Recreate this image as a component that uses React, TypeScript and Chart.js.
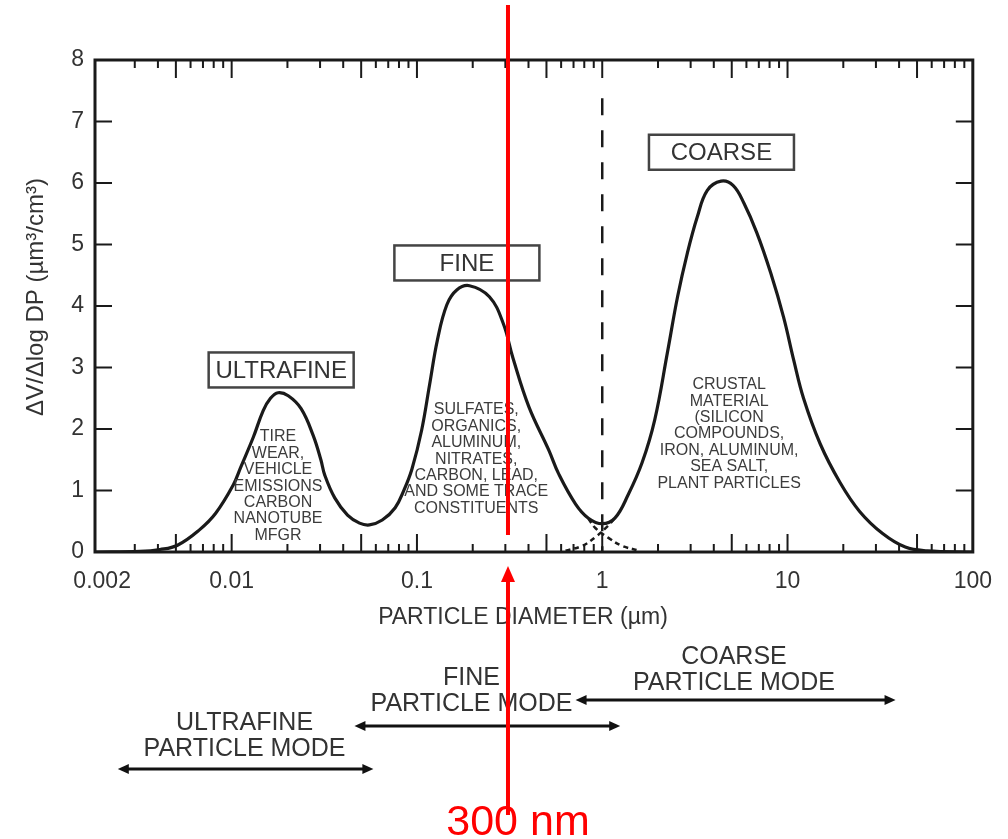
import React, { useEffect, useRef } from "react";
import { Chart, registerables } from "chart.js";

Chart.register(...registerables);

// ---------- data ----------
const diameters = [
  0.00183, 0.0032, 0.0041, 0.0051, 0.0067, 0.0082, 0.0102, 0.0112, 0.0131, 0.0148, 0.0162, 0.0178,
  0.0202, 0.0237, 0.0275, 0.0303, 0.0318, 0.036, 0.0422, 0.049, 0.0554, 0.065, 0.0763, 0.0852,
  0.094, 0.106, 0.117, 0.129, 0.145, 0.164, 0.192, 0.246, 0.292, 0.33, 0.402, 0.514, 0.582, 0.718,
  0.842, 1.0, 1.17, 1.38, 1.64, 1.92, 2.25, 2.55, 2.88, 3.26, 3.69, 4.38, 5.08, 5.82, 6.83, 8.11,
  9.52, 10.8, 12.2, 15.0, 19.2, 24.5, 32.6, 43.2, 56.8, 100,
];
const volumes = [
  0, 0.01, 0.04, 0.11, 0.36, 0.63, 1.09, 1.38, 1.87, 2.3, 2.5, 2.59,
  2.54, 2.33, 1.9, 1.5, 1.25, 0.88, 0.6, 0.47, 0.44, 0.52, 0.72, 1.01,
  1.35, 1.98, 2.72, 3.45, 4.02, 4.26, 4.33, 4.15, 3.72, 3.15, 2.36, 1.66, 1.27, 0.78,
  0.55, 0.46, 0.55, 0.93, 1.45, 2.15, 3.25, 4.15, 4.86, 5.45, 5.88, 6.03, 5.96, 5.67, 5.19, 4.54,
  3.82, 3.12, 2.5, 1.76, 1.13, 0.66, 0.3, 0.08, 0.02, 0,
];
// dashed overlapping tails of the fine and coarse modes near 1 µm
const fineTailX = [0.842, 0.918, 1.08, 1.28, 1.6];
const fineTailY = [0.54, 0.39, 0.23, 0.1, 0.02];
const coarseTailX = [0.634, 0.78, 0.918, 1.06, 1.17];
const coarseTailY = [0.02, 0.1, 0.24, 0.41, 0.55];

const cutoffDiameter = 1;
const cutoffTop = 7.38;
const markerDiameter = 0.31;
const markerLabel = "300 nm";

const xMin = 0.00183;
const xMax = 100;
const yMin = 0;
const yMax = 8;
const xTickValues = [0.002, 0.01, 0.1, 1, 10, 100];
const xTickLabels = ["0.002", "0.01", "0.1", "1", "10", "100"];
const yTickValues = [0, 1, 2, 3, 4, 5, 6, 7, 8];

const xTitle = "PARTICLE DIAMETER (µm)";
const yTitle = "ΔV/Δlog DP (µm³/cm³)";

const modeBoxLabels = ["ULTRAFINE", "FINE", "COARSE"];
const modeBoxX = [0.0185, 0.186, 4.4];
const modeBoxY = [2.96, 4.7, 6.5];

const sourceLines = [
  ["TIRE", "WEAR,", "VEHICLE", "EMISSIONS", "CARBON", "NANOTUBE", "MFGR"],
  ["SULFATES,", "ORGANICS,", "ALUMINUM,", "NITRATES,", "CARBON, LEAD,", "AND SOME TRACE", "CONSTITUENTS"],
  ["CRUSTAL", "MATERIAL", "(SILICON", "COMPOUNDS,", "IRON, ALUMINUM,", "SEA SALT,", "PLANT PARTICLES"],
];
const sourceX = [0.0178, 0.209, 4.84];
const sourceTopY = [1.87, 2.31, 2.72];

const rangeLabels = [
  ["ULTRAFINE", "PARTICLE MODE"],
  ["FINE", "PARTICLE MODE"],
  ["COARSE", "PARTICLE MODE"],
];
const rangeFrom = [0.00243, 0.046, 0.718];
const rangeTo = [0.0582, 1.25, 38.3];
const rangeLabelX = [0.01174, 0.197, 5.14];

// ---------- styling ----------
const FONT = '"Liberation Sans", Arial, Helvetica, sans-serif';
const INK = "#1a1a1a";
const TEXT = "#333333";

const annotations = {
  id: "annotations",
  afterDatasetsDraw(chart: any) {
    const { ctx, chartArea: a } = chart;
    const xs = chart.scales.x;
    const ys = chart.scales.y;
    ctx.save();

    // frame
    ctx.strokeStyle = INK;
    ctx.lineWidth = 3;
    ctx.strokeRect(a.left, a.top, a.right - a.left, a.bottom - a.top);

    // inward ticks on x (bottom and top)
    ctx.lineWidth = 2;
    const decades = [0.001, 0.01, 0.1, 1, 10];
    const drawXTick = (v: number, len: number) => {
      if (v <= xMin || v >= xMax || len <= 0) return;
      const px = xs.getPixelForValue(v);
      ctx.beginPath();
      ctx.moveTo(px, a.bottom);
      ctx.lineTo(px, a.bottom - len);
      ctx.moveTo(px, a.top);
      ctx.lineTo(px, a.top + len);
      ctx.stroke();
    };
    decades.forEach((d) => {
      drawXTick(d, 18);
      for (let k = 3; k <= 9; k++) drawXTick(k * d, k === 5 ? 18 : 8);
      drawXTick(2 * d, d === 0.001 ? 0 : 8);
    });
    // inward ticks on y (left and right)
    yTickValues.forEach((v) => {
      if (v <= yMin || v >= yMax) return;
      const py = ys.getPixelForValue(v);
      ctx.beginPath();
      ctx.moveTo(a.left, py);
      ctx.lineTo(a.left + 17, py);
      ctx.moveTo(a.right, py);
      ctx.lineTo(a.right - 17, py);
      ctx.stroke();
    });

    // mode boxes
    ctx.textAlign = "center";
    ctx.textBaseline = "middle";
    modeBoxLabels.forEach((lab, i) => {
      const cx = xs.getPixelForValue(modeBoxX[i]);
      const cy = ys.getPixelForValue(modeBoxY[i]);
      const w = 145;
      const h = 35;
      ctx.fillStyle = "#ffffff";
      ctx.fillRect(cx - w / 2, cy - h / 2, w, h);
      ctx.strokeStyle = "#444444";
      ctx.lineWidth = 2.5;
      ctx.strokeRect(cx - w / 2, cy - h / 2, w, h);
      ctx.fillStyle = TEXT;
      ctx.font = `24px ${FONT}`;
      ctx.fillText(lab, cx, cy + 1);
    });

    // source descriptions
    ctx.font = `16px ${FONT}`;
    ctx.fillStyle = "#3c3c3c";
    sourceLines.forEach((lines, i) => {
      const cx = xs.getPixelForValue(sourceX[i]);
      const cy = ys.getPixelForValue(sourceTopY[i]);
      lines.forEach((ln, j) => ctx.fillText(ln, cx, cy + j * 16.4));
    });

    // axis titles
    ctx.fillStyle = TEXT;
    ctx.font = `23px ${FONT}`;
    ctx.fillText(xTitle, 523, 618);
    ctx.save();
    ctx.translate(36, 297);
    ctx.rotate(-Math.PI / 2);
    ctx.font = `24px ${FONT}`;
    ctx.fillText(yTitle, 0, 0);
    ctx.restore();

    // particle-mode ranges below the axis
    const arrowY = [769, 726, 700];
    const labelY = [[723, 749], [678, 704], [657, 683]];
    ctx.font = `25px ${FONT}`;
    rangeLabels.forEach((labs, i) => {
      const cx = xs.getPixelForValue(rangeLabelX[i]);
      ctx.fillStyle = TEXT;
      labs.forEach((l, j) => ctx.fillText(l, cx, labelY[i][j]));
      const x0 = xs.getPixelForValue(rangeFrom[i]);
      const x1 = xs.getPixelForValue(rangeTo[i]);
      const yy = arrowY[i];
      ctx.strokeStyle = "#111111";
      ctx.fillStyle = "#111111";
      ctx.lineWidth = 2.8;
      ctx.beginPath();
      ctx.moveTo(x0 + 8, yy);
      ctx.lineTo(x1 - 8, yy);
      ctx.stroke();
      ctx.beginPath();
      ctx.moveTo(x0, yy);
      ctx.lineTo(x0 + 11, yy - 5);
      ctx.lineTo(x0 + 11, yy + 5);
      ctx.closePath();
      ctx.fill();
      ctx.beginPath();
      ctx.moveTo(x1, yy);
      ctx.lineTo(x1 - 11, yy - 5);
      ctx.lineTo(x1 - 11, yy + 5);
      ctx.closePath();
      ctx.fill();
    });

    // red 300 nm marker
    const mx = xs.getPixelForValue(markerDiameter);
    ctx.strokeStyle = "#ff0000";
    ctx.fillStyle = "#ff0000";
    ctx.lineWidth = 4;
    ctx.beginPath();
    ctx.moveTo(mx, 5);
    ctx.lineTo(mx, a.bottom - 17);
    ctx.stroke();
    const tip = a.bottom + 14;
    ctx.beginPath();
    ctx.moveTo(mx, tip);
    ctx.lineTo(mx - 7, tip + 16);
    ctx.lineTo(mx + 7, tip + 16);
    ctx.closePath();
    ctx.fill();
    ctx.beginPath();
    ctx.moveTo(mx, tip + 14);
    ctx.lineTo(mx, 815);
    ctx.stroke();
    ctx.font = `43px ${FONT}`;
    ctx.textBaseline = "alphabetic";
    ctx.fillText(markerLabel, mx + 10, 835);

    ctx.restore();
  },
};

export default function App() {
  const ref = useRef<HTMLCanvasElement | null>(null);

  useEffect(() => {
    document.body.style.margin = "0";
    const canvas = ref.current;
    if (!canvas) return;
    const chart = new Chart(canvas, {
      type: "line",
      data: {
        datasets: [
          {
            label: "Volume distribution",
            data: diameters.map((d, i) => ({ x: d, y: volumes[i] })),
            borderColor: INK,
            borderWidth: 3.2,
            pointRadius: 0,
            tension: 0.4,
            fill: false,
          },
          {
            label: "Fine tail",
            data: fineTailX.map((d, i) => ({ x: d, y: fineTailY[i] })),
            borderColor: INK,
            borderWidth: 2.5,
            borderDash: [5, 4],
            pointRadius: 0,
            tension: 0.4,
          },
          {
            label: "Coarse tail",
            data: coarseTailX.map((d, i) => ({ x: d, y: coarseTailY[i] })),
            borderColor: INK,
            borderWidth: 2.5,
            borderDash: [5, 4],
            pointRadius: 0,
            tension: 0.4,
          },
          {
            label: "1 µm cut",
            data: [
              { x: cutoffDiameter, y: cutoffTop },
              { x: cutoffDiameter, y: yMin },
            ],
            borderColor: INK,
            borderWidth: 2.5,
            borderDash: [17, 15],
            pointRadius: 0,
          },
        ],
      },
      options: {
        animation: false,
        responsive: false,
        devicePixelRatio: 1,
        layout: { padding: { top: 60, right: 26, left: 0, bottom: 0 } },
        plugins: { legend: { display: false }, tooltip: { enabled: false } },
        scales: {
          x: {
            type: "logarithmic",
            min: xMin,
            max: xMax,
            afterBuildTicks: (s: any) => {
              s.ticks = xTickValues.map((v) => ({ value: v }));
            },
            afterFit: (s: any) => {
              s.height = 839 - 552;
            },
            ticks: {
              autoSkip: false,
              maxRotation: 0,
              padding: 16,
              color: TEXT,
              font: { family: FONT, size: 23 },
              callback: (v: any) => {
                const i = xTickValues.findIndex((t) => Math.abs(t - Number(v)) < t * 1e-6);
                return i >= 0 ? xTickLabels[i] : "";
              },
            },
            grid: { display: false, drawTicks: false },
            border: { display: false },
          },
          y: {
            min: yMin,
            max: yMax,
            afterBuildTicks: (s: any) => {
              s.ticks = yTickValues.map((v) => ({ value: v }));
            },
            afterFit: (s: any) => {
              s.width = 95;
            },
            ticks: {
              padding: 11,
              color: TEXT,
              font: { family: FONT, size: 23 },
            },
            grid: { display: false, drawTicks: false },
            border: { display: false },
          },
        },
      },
      plugins: [annotations],
    });
    return () => chart.destroy();
  }, []);

  return (
    <div style={{ position: "absolute", left: 0, top: 0, width: 1008, height: 839, background: "#fff" }}>
      <canvas ref={ref} width={1008} height={839} style={{ display: "block", width: 1008, height: 839 }} />
    </div>
  );
}
